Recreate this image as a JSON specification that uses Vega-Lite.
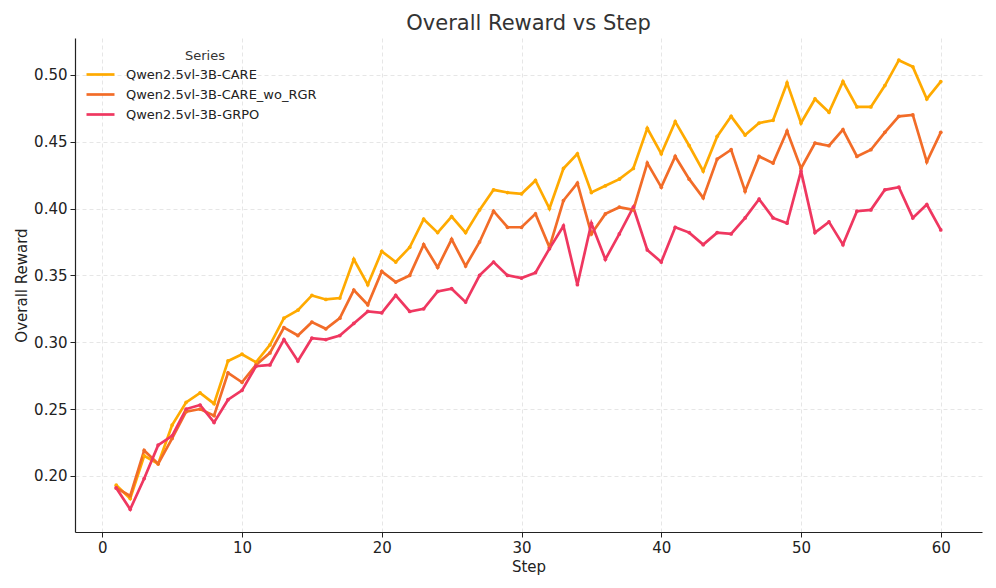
{
  "$schema": "https://vega.github.io/schema/vega-lite/v6.json",
  "autosize": {"type": "none"},
  "padding": {"left": 75, "top": 38, "right": 14, "bottom": 56},
  "width": 907,
  "height": 494,
  "background": "white",
  "title": {"text": "Overall Reward vs Step", "fontSize": 21, "font": "DejaVu Sans", "fontWeight": "normal", "color": "#333333", "offset": 4, "anchor": "middle"},
  "data": {
    "values": [
      {"step":1,"s":"Qwen2.5vl-3B-CARE","v":0.193},{"step":2,"s":"Qwen2.5vl-3B-CARE","v":0.183},{"step":3,"s":"Qwen2.5vl-3B-CARE","v":0.215},{"step":4,"s":"Qwen2.5vl-3B-CARE","v":0.209},{"step":5,"s":"Qwen2.5vl-3B-CARE","v":0.238},{"step":6,"s":"Qwen2.5vl-3B-CARE","v":0.255},{"step":7,"s":"Qwen2.5vl-3B-CARE","v":0.262},{"step":8,"s":"Qwen2.5vl-3B-CARE","v":0.254},{"step":9,"s":"Qwen2.5vl-3B-CARE","v":0.286},{"step":10,"s":"Qwen2.5vl-3B-CARE","v":0.291},
      {"step":11,"s":"Qwen2.5vl-3B-CARE","v":0.285},{"step":12,"s":"Qwen2.5vl-3B-CARE","v":0.298},{"step":13,"s":"Qwen2.5vl-3B-CARE","v":0.318},{"step":14,"s":"Qwen2.5vl-3B-CARE","v":0.324},{"step":15,"s":"Qwen2.5vl-3B-CARE","v":0.335},{"step":16,"s":"Qwen2.5vl-3B-CARE","v":0.332},{"step":17,"s":"Qwen2.5vl-3B-CARE","v":0.333},{"step":18,"s":"Qwen2.5vl-3B-CARE","v":0.362},{"step":19,"s":"Qwen2.5vl-3B-CARE","v":0.343},{"step":20,"s":"Qwen2.5vl-3B-CARE","v":0.368},
      {"step":21,"s":"Qwen2.5vl-3B-CARE","v":0.360},{"step":22,"s":"Qwen2.5vl-3B-CARE","v":0.371},{"step":23,"s":"Qwen2.5vl-3B-CARE","v":0.392},{"step":24,"s":"Qwen2.5vl-3B-CARE","v":0.382},{"step":25,"s":"Qwen2.5vl-3B-CARE","v":0.394},{"step":26,"s":"Qwen2.5vl-3B-CARE","v":0.382},{"step":27,"s":"Qwen2.5vl-3B-CARE","v":0.399},{"step":28,"s":"Qwen2.5vl-3B-CARE","v":0.414},{"step":29,"s":"Qwen2.5vl-3B-CARE","v":0.412},{"step":30,"s":"Qwen2.5vl-3B-CARE","v":0.411},
      {"step":31,"s":"Qwen2.5vl-3B-CARE","v":0.421},{"step":32,"s":"Qwen2.5vl-3B-CARE","v":0.400},{"step":33,"s":"Qwen2.5vl-3B-CARE","v":0.430},{"step":34,"s":"Qwen2.5vl-3B-CARE","v":0.441},{"step":35,"s":"Qwen2.5vl-3B-CARE","v":0.412},{"step":36,"s":"Qwen2.5vl-3B-CARE","v":0.417},{"step":37,"s":"Qwen2.5vl-3B-CARE","v":0.422},{"step":38,"s":"Qwen2.5vl-3B-CARE","v":0.430},{"step":39,"s":"Qwen2.5vl-3B-CARE","v":0.460},{"step":40,"s":"Qwen2.5vl-3B-CARE","v":0.441},
      {"step":41,"s":"Qwen2.5vl-3B-CARE","v":0.465},{"step":42,"s":"Qwen2.5vl-3B-CARE","v":0.447},{"step":43,"s":"Qwen2.5vl-3B-CARE","v":0.428},{"step":44,"s":"Qwen2.5vl-3B-CARE","v":0.454},{"step":45,"s":"Qwen2.5vl-3B-CARE","v":0.469},{"step":46,"s":"Qwen2.5vl-3B-CARE","v":0.455},{"step":47,"s":"Qwen2.5vl-3B-CARE","v":0.464},{"step":48,"s":"Qwen2.5vl-3B-CARE","v":0.466},{"step":49,"s":"Qwen2.5vl-3B-CARE","v":0.494},{"step":50,"s":"Qwen2.5vl-3B-CARE","v":0.464},
      {"step":51,"s":"Qwen2.5vl-3B-CARE","v":0.482},{"step":52,"s":"Qwen2.5vl-3B-CARE","v":0.472},{"step":53,"s":"Qwen2.5vl-3B-CARE","v":0.495},{"step":54,"s":"Qwen2.5vl-3B-CARE","v":0.476},{"step":55,"s":"Qwen2.5vl-3B-CARE","v":0.476},{"step":56,"s":"Qwen2.5vl-3B-CARE","v":0.492},{"step":57,"s":"Qwen2.5vl-3B-CARE","v":0.511},{"step":58,"s":"Qwen2.5vl-3B-CARE","v":0.506},{"step":59,"s":"Qwen2.5vl-3B-CARE","v":0.482},{"step":60,"s":"Qwen2.5vl-3B-CARE","v":0.495},

      {"step":1,"s":"Qwen2.5vl-3B-CARE_wo_RGR","v":0.191},{"step":2,"s":"Qwen2.5vl-3B-CARE_wo_RGR","v":0.185},{"step":3,"s":"Qwen2.5vl-3B-CARE_wo_RGR","v":0.219},{"step":4,"s":"Qwen2.5vl-3B-CARE_wo_RGR","v":0.209},{"step":5,"s":"Qwen2.5vl-3B-CARE_wo_RGR","v":0.228},{"step":6,"s":"Qwen2.5vl-3B-CARE_wo_RGR","v":0.248},{"step":7,"s":"Qwen2.5vl-3B-CARE_wo_RGR","v":0.250},{"step":8,"s":"Qwen2.5vl-3B-CARE_wo_RGR","v":0.245},{"step":9,"s":"Qwen2.5vl-3B-CARE_wo_RGR","v":0.277},{"step":10,"s":"Qwen2.5vl-3B-CARE_wo_RGR","v":0.270},
      {"step":11,"s":"Qwen2.5vl-3B-CARE_wo_RGR","v":0.283},{"step":12,"s":"Qwen2.5vl-3B-CARE_wo_RGR","v":0.292},{"step":13,"s":"Qwen2.5vl-3B-CARE_wo_RGR","v":0.311},{"step":14,"s":"Qwen2.5vl-3B-CARE_wo_RGR","v":0.305},{"step":15,"s":"Qwen2.5vl-3B-CARE_wo_RGR","v":0.315},{"step":16,"s":"Qwen2.5vl-3B-CARE_wo_RGR","v":0.310},{"step":17,"s":"Qwen2.5vl-3B-CARE_wo_RGR","v":0.318},{"step":18,"s":"Qwen2.5vl-3B-CARE_wo_RGR","v":0.339},{"step":19,"s":"Qwen2.5vl-3B-CARE_wo_RGR","v":0.328},{"step":20,"s":"Qwen2.5vl-3B-CARE_wo_RGR","v":0.353},
      {"step":21,"s":"Qwen2.5vl-3B-CARE_wo_RGR","v":0.345},{"step":22,"s":"Qwen2.5vl-3B-CARE_wo_RGR","v":0.350},{"step":23,"s":"Qwen2.5vl-3B-CARE_wo_RGR","v":0.373},{"step":24,"s":"Qwen2.5vl-3B-CARE_wo_RGR","v":0.356},{"step":25,"s":"Qwen2.5vl-3B-CARE_wo_RGR","v":0.377},{"step":26,"s":"Qwen2.5vl-3B-CARE_wo_RGR","v":0.357},{"step":27,"s":"Qwen2.5vl-3B-CARE_wo_RGR","v":0.375},{"step":28,"s":"Qwen2.5vl-3B-CARE_wo_RGR","v":0.398},{"step":29,"s":"Qwen2.5vl-3B-CARE_wo_RGR","v":0.386},{"step":30,"s":"Qwen2.5vl-3B-CARE_wo_RGR","v":0.386},
      {"step":31,"s":"Qwen2.5vl-3B-CARE_wo_RGR","v":0.396},{"step":32,"s":"Qwen2.5vl-3B-CARE_wo_RGR","v":0.371},{"step":33,"s":"Qwen2.5vl-3B-CARE_wo_RGR","v":0.406},{"step":34,"s":"Qwen2.5vl-3B-CARE_wo_RGR","v":0.419},{"step":35,"s":"Qwen2.5vl-3B-CARE_wo_RGR","v":0.381},{"step":36,"s":"Qwen2.5vl-3B-CARE_wo_RGR","v":0.396},{"step":37,"s":"Qwen2.5vl-3B-CARE_wo_RGR","v":0.401},{"step":38,"s":"Qwen2.5vl-3B-CARE_wo_RGR","v":0.399},{"step":39,"s":"Qwen2.5vl-3B-CARE_wo_RGR","v":0.434},{"step":40,"s":"Qwen2.5vl-3B-CARE_wo_RGR","v":0.416},
      {"step":41,"s":"Qwen2.5vl-3B-CARE_wo_RGR","v":0.439},{"step":42,"s":"Qwen2.5vl-3B-CARE_wo_RGR","v":0.422},{"step":43,"s":"Qwen2.5vl-3B-CARE_wo_RGR","v":0.408},{"step":44,"s":"Qwen2.5vl-3B-CARE_wo_RGR","v":0.437},{"step":45,"s":"Qwen2.5vl-3B-CARE_wo_RGR","v":0.444},{"step":46,"s":"Qwen2.5vl-3B-CARE_wo_RGR","v":0.413},{"step":47,"s":"Qwen2.5vl-3B-CARE_wo_RGR","v":0.439},{"step":48,"s":"Qwen2.5vl-3B-CARE_wo_RGR","v":0.434},{"step":49,"s":"Qwen2.5vl-3B-CARE_wo_RGR","v":0.458},{"step":50,"s":"Qwen2.5vl-3B-CARE_wo_RGR","v":0.430},
      {"step":51,"s":"Qwen2.5vl-3B-CARE_wo_RGR","v":0.449},{"step":52,"s":"Qwen2.5vl-3B-CARE_wo_RGR","v":0.447},{"step":53,"s":"Qwen2.5vl-3B-CARE_wo_RGR","v":0.459},{"step":54,"s":"Qwen2.5vl-3B-CARE_wo_RGR","v":0.439},{"step":55,"s":"Qwen2.5vl-3B-CARE_wo_RGR","v":0.444},{"step":56,"s":"Qwen2.5vl-3B-CARE_wo_RGR","v":0.457},{"step":57,"s":"Qwen2.5vl-3B-CARE_wo_RGR","v":0.469},{"step":58,"s":"Qwen2.5vl-3B-CARE_wo_RGR","v":0.470},{"step":59,"s":"Qwen2.5vl-3B-CARE_wo_RGR","v":0.435},{"step":60,"s":"Qwen2.5vl-3B-CARE_wo_RGR","v":0.457},

      {"step":1,"s":"Qwen2.5vl-3B-GRPO","v":0.191},{"step":2,"s":"Qwen2.5vl-3B-GRPO","v":0.175},{"step":3,"s":"Qwen2.5vl-3B-GRPO","v":0.198},{"step":4,"s":"Qwen2.5vl-3B-GRPO","v":0.223},{"step":5,"s":"Qwen2.5vl-3B-GRPO","v":0.230},{"step":6,"s":"Qwen2.5vl-3B-GRPO","v":0.250},{"step":7,"s":"Qwen2.5vl-3B-GRPO","v":0.253},{"step":8,"s":"Qwen2.5vl-3B-GRPO","v":0.240},{"step":9,"s":"Qwen2.5vl-3B-GRPO","v":0.257},{"step":10,"s":"Qwen2.5vl-3B-GRPO","v":0.264},
      {"step":11,"s":"Qwen2.5vl-3B-GRPO","v":0.282},{"step":12,"s":"Qwen2.5vl-3B-GRPO","v":0.283},{"step":13,"s":"Qwen2.5vl-3B-GRPO","v":0.302},{"step":14,"s":"Qwen2.5vl-3B-GRPO","v":0.286},{"step":15,"s":"Qwen2.5vl-3B-GRPO","v":0.303},{"step":16,"s":"Qwen2.5vl-3B-GRPO","v":0.302},{"step":17,"s":"Qwen2.5vl-3B-GRPO","v":0.305},{"step":18,"s":"Qwen2.5vl-3B-GRPO","v":0.314},{"step":19,"s":"Qwen2.5vl-3B-GRPO","v":0.323},{"step":20,"s":"Qwen2.5vl-3B-GRPO","v":0.322},
      {"step":21,"s":"Qwen2.5vl-3B-GRPO","v":0.335},{"step":22,"s":"Qwen2.5vl-3B-GRPO","v":0.323},{"step":23,"s":"Qwen2.5vl-3B-GRPO","v":0.325},{"step":24,"s":"Qwen2.5vl-3B-GRPO","v":0.338},{"step":25,"s":"Qwen2.5vl-3B-GRPO","v":0.340},{"step":26,"s":"Qwen2.5vl-3B-GRPO","v":0.330},{"step":27,"s":"Qwen2.5vl-3B-GRPO","v":0.350},{"step":28,"s":"Qwen2.5vl-3B-GRPO","v":0.360},{"step":29,"s":"Qwen2.5vl-3B-GRPO","v":0.350},{"step":30,"s":"Qwen2.5vl-3B-GRPO","v":0.348},
      {"step":31,"s":"Qwen2.5vl-3B-GRPO","v":0.352},{"step":32,"s":"Qwen2.5vl-3B-GRPO","v":0.370},{"step":33,"s":"Qwen2.5vl-3B-GRPO","v":0.387},{"step":34,"s":"Qwen2.5vl-3B-GRPO","v":0.343},{"step":35,"s":"Qwen2.5vl-3B-GRPO","v":0.389},{"step":36,"s":"Qwen2.5vl-3B-GRPO","v":0.362},{"step":37,"s":"Qwen2.5vl-3B-GRPO","v":0.381},{"step":38,"s":"Qwen2.5vl-3B-GRPO","v":0.401},{"step":39,"s":"Qwen2.5vl-3B-GRPO","v":0.369},{"step":40,"s":"Qwen2.5vl-3B-GRPO","v":0.360},
      {"step":41,"s":"Qwen2.5vl-3B-GRPO","v":0.386},{"step":42,"s":"Qwen2.5vl-3B-GRPO","v":0.382},{"step":43,"s":"Qwen2.5vl-3B-GRPO","v":0.373},{"step":44,"s":"Qwen2.5vl-3B-GRPO","v":0.382},{"step":45,"s":"Qwen2.5vl-3B-GRPO","v":0.381},{"step":46,"s":"Qwen2.5vl-3B-GRPO","v":0.393},{"step":47,"s":"Qwen2.5vl-3B-GRPO","v":0.407},{"step":48,"s":"Qwen2.5vl-3B-GRPO","v":0.393},{"step":49,"s":"Qwen2.5vl-3B-GRPO","v":0.389},{"step":50,"s":"Qwen2.5vl-3B-GRPO","v":0.428},
      {"step":51,"s":"Qwen2.5vl-3B-GRPO","v":0.382},{"step":52,"s":"Qwen2.5vl-3B-GRPO","v":0.390},{"step":53,"s":"Qwen2.5vl-3B-GRPO","v":0.373},{"step":54,"s":"Qwen2.5vl-3B-GRPO","v":0.398},{"step":55,"s":"Qwen2.5vl-3B-GRPO","v":0.399},{"step":56,"s":"Qwen2.5vl-3B-GRPO","v":0.414},{"step":57,"s":"Qwen2.5vl-3B-GRPO","v":0.416},{"step":58,"s":"Qwen2.5vl-3B-GRPO","v":0.393},{"step":59,"s":"Qwen2.5vl-3B-GRPO","v":0.403},{"step":60,"s":"Qwen2.5vl-3B-GRPO","v":0.384}
    ]
  },
  "mark": {"type": "line", "strokeWidth": 2.7, "point": {"filled": true, "size": 14}},
  "encoding": {
    "x": {"field": "step", "type": "quantitative", "title": "Step",
      "scale": {"domain": [-1.95, 62.95], "nice": false, "zero": false},
      "axis": {"values": [0,10,20,30,40,50,60], "format": "d"}},
    "y": {"field": "v", "type": "quantitative", "title": "Overall Reward",
      "scale": {"domain": [0.158, 0.5276], "nice": false, "zero": false},
      "axis": {"values": [0.20,0.25,0.30,0.35,0.40,0.45,0.50], "format": ".2f"}},
    "color": {"field": "s", "type": "nominal", "title": "Series",
      "scale": {"domain": ["Qwen2.5vl-3B-CARE","Qwen2.5vl-3B-CARE_wo_RGR","Qwen2.5vl-3B-GRPO"], "range": ["#FFAA00","#F26C28","#EF3760"]},
      "legend": {"orient": "none", "legendX": 19, "legendY": 12, "symbolType": "M-2.8,0H2.8", "symbolSize": 100, "symbolStrokeWidth": 2.7,
        "titleAnchor": "middle", "titleFontWeight": "normal", "titleFontSize": 13, "titleColor": "#333333", "titlePadding": 5,
        "labelFontSize": 13, "labelColor": "#222222", "rowPadding": 6, "labelOffset": 19, "labelLimit": 0,
        "titleFont": "DejaVu Sans", "labelFont": "DejaVu Sans"}}
  },
  "config": {
    "view": {"stroke": null},
    "font": "DejaVu Sans",
    "axis": {"labelFont": "DejaVu Sans", "titleFont": "DejaVu Sans", "labelFontSize": 15, "titleFontSize": 15, "titleFontWeight": "normal",
      "labelColor": "#222222", "titleColor": "#222222", "domainColor": "#222222", "domainWidth": 1.2, "tickColor": "#222222", "tickSize": 5,
      "grid": true, "gridColor": "#e0e0e0", "gridDash": [4, 3], "gridWidth": 0.8, "labelPadding": 3},
    "axisX": {"titlePadding": 4},
    "axisY": {"titlePadding": 4}
  }
}
